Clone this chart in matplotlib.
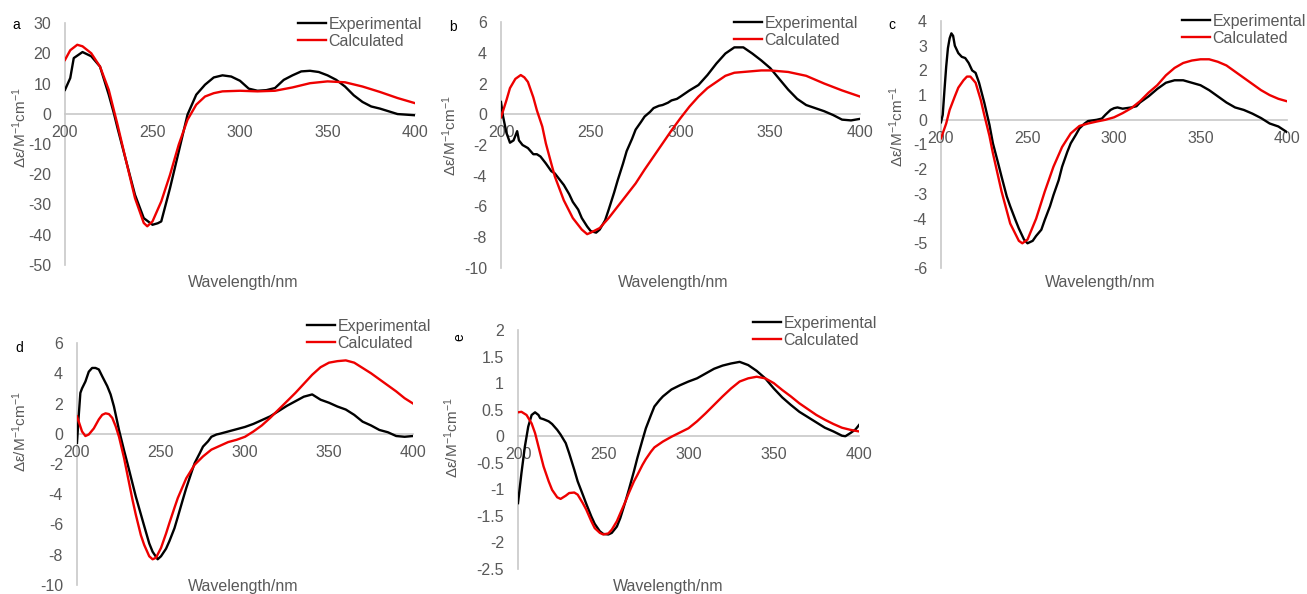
import matplotlib
matplotlib.use("Agg")
import matplotlib.pyplot as plt
from matplotlib.ticker import MultipleLocator, FuncFormatter

plt.rcParams['font.family'] = ['Liberation Sans', 'DejaVu Sans']
plt.rcParams['mathtext.fontset'] = 'custom'
plt.rcParams['mathtext.rm'] = 'Liberation Sans'
plt.rcParams['mathtext.it'] = 'Liberation Sans:italic'
plt.rcParams['axes.unicode_minus'] = False

# ---- data ----
a_exp_nm = [200, 203, 205, 207, 210, 215, 220, 225, 228, 230, 235, 240, 245, 250, 253, 255, 260, 265, 270, 275,
            280, 285, 290, 295, 300, 305, 310, 315, 320, 325, 330, 335, 340, 345, 350, 355, 360, 365, 370, 375,
            380, 385, 390, 395, 400]
a_exp = [7.9, 11.8, 18.4, 19.2, 20.4, 19.0, 15.6, 6.3, 0.0, -4.7, -15.8, -26.8, -34.5, -36.7, -36.2, -35.6, -24.6,
         -12.5, -0.3, 6.3, 9.6, 12.0, 12.7, 12.3, 10.9, 8.3, 7.6, 7.8, 8.5, 11.2, 12.7, 14.0, 14.2, 13.8, 12.7,
         11.2, 9.0, 6.1, 3.9, 2.4, 1.7, 0.8, -0.1, -0.3, -0.5]
a_calc_nm = [200, 203, 207, 210, 215, 220, 225, 230, 235, 240, 245, 247, 250, 255, 260, 265, 270, 275, 280, 285,
             290, 300, 310, 320, 330, 340, 350, 360, 370, 380, 390, 400]
a_calc = [17.8, 21.0, 22.8, 22.3, 20.0, 15.6, 7.9, -3.6, -15.8, -27.9, -36.1, -37.2, -35.6, -29.0, -20.2, -10.2,
          -2.0, 3.0, 5.7, 6.8, 7.4, 7.6, 7.4, 7.6, 8.7, 10.1, 10.7, 10.4, 9.0, 7.2, 5.2, 3.5]

b_exp_nm = [200, 201, 203, 205, 207, 209, 210, 212, 215, 218, 220, 222, 225, 228, 230, 233, 235, 238, 240, 243,
            245, 248, 250, 253, 255, 258, 260, 263, 265, 268, 270, 273, 275, 278, 280, 283, 285, 288, 290, 293,
            295, 298, 300, 305, 310, 315, 320, 325, 330, 335, 340, 345, 350, 355, 360, 365, 370, 375, 380, 385,
            390, 395, 400]
b_exp = [0.8, -0.05, -1.2, -1.85, -1.7, -1.1, -1.7, -2.0, -2.2, -2.6, -2.6, -2.75, -3.2, -3.7, -3.85, -4.3, -4.6,
         -5.2, -5.7, -6.2, -6.75, -7.3, -7.6, -7.7, -7.5, -6.9, -6.2, -5.1, -4.3, -3.2, -2.4, -1.6, -1.0, -0.5,
         -0.15, 0.15, 0.4, 0.55, 0.6, 0.75, 0.9, 1.0, 1.15, 1.55, 1.9, 2.55, 3.3, 3.95, 4.35, 4.35, 3.95, 3.5,
         3.0, 2.3, 1.6, 1.0, 0.6, 0.4, 0.2, -0.05, -0.35, -0.4, -0.3]
b_calc_nm = [200, 203, 205, 208, 211, 213, 215, 218, 220, 223, 225, 228, 230, 235, 240, 245, 248, 250, 255, 260,
             265, 270, 275, 280, 285, 290, 295, 300, 305, 310, 315, 320, 325, 330, 340, 345, 350, 355, 360, 370,
             380, 390, 400]
b_calc = [-0.2, 0.9, 1.7, 2.3, 2.55, 2.4, 2.1, 1.1, 0.25, -0.8, -1.9, -3.2, -4.05, -5.6, -6.75, -7.5, -7.8, -7.7,
          -7.4, -6.75, -6.0, -5.25, -4.5, -3.6, -2.75, -1.9, -1.05, -0.25, 0.5, 1.15, 1.7, 2.1, 2.5, 2.7, 2.8,
          2.85, 2.85, 2.8, 2.75, 2.5, 2.0, 1.55, 1.15]

c_exp_nm = [200, 201, 202, 203, 204, 205, 206, 207, 208, 210, 212, 214, 216, 218, 220, 222, 225, 228, 230, 233,
            235, 238, 240, 243, 245, 248, 250, 253, 255, 258, 260, 263, 265, 268, 270, 273, 275, 278, 280, 283,
            285, 290, 293, 295, 298, 300, 302, 305, 308, 310, 313, 315, 320, 325, 330, 335, 340, 345, 350, 355,
            360, 365, 370, 375, 380, 385, 390, 395, 400]
c_exp = [-0.1, 0.2, 1.2, 2.15, 2.9, 3.3, 3.5, 3.4, 3.0, 2.7, 2.55, 2.5, 2.3, 2.0, 1.9, 1.5, 0.7, -0.2, -0.95,
         -1.75, -2.3, -3.1, -3.5, -4.05, -4.4, -4.85, -5.0, -4.9, -4.7, -4.45, -4.05, -3.5, -3.05, -2.45, -1.9,
         -1.3, -0.95, -0.6, -0.35, -0.15, -0.05, 0.0, 0.05, 0.2, 0.4, 0.47, 0.5, 0.45, 0.48, 0.5, 0.55, 0.7, 0.95,
         1.25, 1.5, 1.6, 1.6, 1.5, 1.4, 1.2, 0.95, 0.7, 0.5, 0.4, 0.25, 0.07, -0.15, -0.27, -0.5]
c_calc_nm = [200, 203, 205, 208, 210, 213, 215, 217, 220, 223, 225, 228, 230, 235, 240, 245, 247, 250, 255, 260,
             265, 270, 275, 280, 285, 290, 295, 300, 305, 310, 315, 320, 325, 330, 335, 340, 345, 350, 355, 360,
             365, 370, 375, 380, 385, 390, 395, 400]
c_calc = [-0.75, -0.15, 0.4, 0.95, 1.3, 1.6, 1.75, 1.75, 1.5, 0.8, 0.2, -0.65, -1.35, -2.9, -4.2, -4.9, -5.0,
          -4.85, -4.0, -2.9, -1.9, -1.1, -0.55, -0.25, -0.15, -0.07, 0.0, 0.1, 0.27, 0.47, 0.75, 1.1, 1.4, 1.8,
          2.1, 2.3, 2.4, 2.45, 2.45, 2.35, 2.2, 1.95, 1.7, 1.45, 1.2, 1.0, 0.85, 0.75]

d_exp_nm = [200, 201, 202, 203, 205, 207, 209, 211, 213, 215, 218, 220, 222, 225, 228, 230, 235, 240, 243, 245,
            248, 250, 253, 255, 258, 260, 263, 265, 268, 270, 273, 275, 278, 280, 283, 285, 290, 295, 300, 305,
            310, 315, 320, 325, 330, 335, 340, 345, 350, 355, 360, 365, 370, 375, 380, 385, 390, 395, 400]
d_exp = [-0.6, 1.15, 2.7, 3.0, 3.45, 4.1, 4.35, 4.35, 4.25, 3.8, 3.15, 2.6, 1.8, 0.25, -1.1, -1.95, -4.15, -6.1,
         -7.25, -7.8, -8.3, -8.1, -7.6, -7.1, -6.25, -5.5, -4.35, -3.6, -2.6, -1.95, -1.3, -0.85, -0.5, -0.2,
         -0.05, 0.0, 0.15, 0.3, 0.45, 0.65, 0.9, 1.15, 1.5, 1.85, 2.15, 2.45, 2.6, 2.25, 2.05, 1.8, 1.6, 1.25,
         0.8, 0.55, 0.25, 0.1, -0.15, -0.2, -0.15]
d_calc_nm = [200, 203, 205, 207, 210, 213, 215, 217, 219, 221, 223, 225, 228, 230, 233, 235, 238, 240, 243, 245,
             247, 250, 253, 255, 258, 260, 265, 270, 275, 280, 285, 290, 295, 300, 305, 310, 315, 320, 325, 330,
             335, 340, 345, 350, 355, 360, 365, 370, 375, 380, 385, 390, 395, 400]
d_calc = [1.15, 0.15, -0.15, -0.05, 0.35, 0.95, 1.25, 1.35, 1.3, 1.05, 0.5, -0.2, -1.6, -2.7, -4.35, -5.35, -6.7,
          -7.35, -8.1, -8.3, -8.2, -7.55, -6.6, -5.9, -4.9, -4.25, -2.95, -2.05, -1.5, -1.05, -0.8, -0.55, -0.4,
          -0.2, 0.15, 0.55, 1.05, 1.6, 2.15, 2.7, 3.3, 3.9, 4.4, 4.7, 4.8, 4.85, 4.7, 4.35, 4.0, 3.6, 3.2, 2.8,
          2.35, 2.0]

e_exp_nm = [200, 202, 204, 206, 208, 210, 212, 213, 215, 218, 220, 223, 225, 228, 230, 233, 235, 238, 240, 243,
            245, 248, 250, 253, 255, 258, 260, 263, 265, 268, 270, 273, 275, 278, 280, 283, 285, 290, 295, 300,
            305, 310, 315, 320, 325, 330, 335, 340, 345, 350, 355, 360, 365, 370, 375, 380, 385, 390, 392, 395,
            398, 400]
e_exp = [-1.26, -0.7, -0.2, 0.18, 0.4, 0.45, 0.4, 0.34, 0.32, 0.28, 0.23, 0.12, 0.03, -0.13, -0.32, -0.63, -0.85,
         -1.1, -1.27, -1.51, -1.65, -1.79, -1.84, -1.85, -1.82, -1.7, -1.54, -1.23, -1.01, -0.66, -0.41, -0.07,
         0.15, 0.4, 0.56, 0.68, 0.75, 0.88, 0.96, 1.03, 1.09, 1.18, 1.27, 1.33, 1.37, 1.4, 1.34, 1.23, 1.09, 0.9,
         0.73, 0.59, 0.46, 0.36, 0.26, 0.16, 0.09, 0.01, 0.0, 0.06, 0.13, 0.21]
e_calc_nm = [200, 202, 205, 208, 210, 213, 215, 218, 220, 223, 225, 228, 230, 233, 235, 238, 240, 243, 245, 248,
             250, 253, 255, 258, 260, 263, 265, 268, 270, 273, 275, 278, 280, 285, 290, 295, 300, 305, 310, 315,
             320, 325, 330, 335, 340, 345, 350, 355, 360, 365, 370, 375, 380, 385, 390, 395, 400]
e_calc = [0.45, 0.46, 0.4, 0.24, 0.06, -0.32, -0.57, -0.85, -1.01, -1.15, -1.18, -1.12, -1.07, -1.06, -1.1, -1.26,
          -1.38, -1.6, -1.73, -1.82, -1.85, -1.83, -1.76, -1.6, -1.45, -1.23, -1.07, -0.85, -0.73, -0.54, -0.43,
          -0.29, -0.21, -0.1, -0.01, 0.07, 0.15, 0.28, 0.43, 0.59, 0.75, 0.9, 1.03, 1.09, 1.12, 1.09, 1.0, 0.87,
          0.75, 0.62, 0.51, 0.4, 0.31, 0.23, 0.16, 0.12, 0.09]

W, H = 1307, 594
GRAY = '#595959'
AXIS = '#c8c8c8'

fig = plt.figure(figsize=(W / 100, H / 100), dpi=100)


def px_to_axes(box, px, py):
    x0, y0, x1, y1 = box
    return (px - x0) / (x1 - x0), (y1 - py) / (y1 - y0)


def panel(box, ylim, ystep, exp_nm, exp, calc_nm, calc, letter, letter_xy, leg_xy, xlab_xy, ylab_xy,
          letter_rot=0):
    x0, y0, x1, y1 = box
    ax = fig.add_axes([x0 / W, 1 - y1 / H, (x1 - x0) / W, (y1 - y0) / H])
    ax.plot(exp_nm, exp, color='black', lw=1.7, label='Experimental', solid_joinstyle='round')
    ax.plot(calc_nm, calc, color='#ee0000', lw=1.7, label='Calculated', solid_joinstyle='round')
    ax.set_xlim(200, 400)
    ax.set_ylim(*ylim)
    ax.xaxis.set_major_locator(MultipleLocator(50))
    ax.yaxis.set_major_locator(MultipleLocator(ystep))
    ax.yaxis.set_major_formatter(FuncFormatter(lambda v, p: '{:g}'.format(round(v, 3))))
    for s in ['top', 'right']:
        ax.spines[s].set_visible(False)
    ax.spines['bottom'].set_position(('data', 0))
    for s in ['bottom', 'left']:
        ax.spines[s].set_color(AXIS)
        ax.spines[s].set_linewidth(1.2)
        ax.spines[s].set_zorder(0.5)
    ax.tick_params(axis='both', length=0, labelsize=11.5, labelcolor=GRAY)
    ax.tick_params(axis='x', pad=8)
    ax.tick_params(axis='y', pad=10)
    ax.patch.set_alpha(0)

    ax.set_xlabel('Wavelength/nm', fontsize=11.5, color=GRAY, va='center')
    ax.xaxis.set_label_coords(*px_to_axes(box, *xlab_xy))
    ax.set_ylabel(r'Δε/M$^{\mathrm{-1}}$cm$^{\mathrm{-1}}$', fontsize=11, color=GRAY, va='center')
    ax.yaxis.set_label_coords(*px_to_axes(box, *ylab_xy))

    fig.legend(handles=ax.get_lines(), loc='upper left', bbox_to_anchor=(leg_xy[0] / W, 1 - leg_xy[1] / H),
               frameon=False, fontsize=11.5, labelcolor=GRAY, handlelength=1.75, handletextpad=0.15,
               labelspacing=0.13, borderpad=0, borderaxespad=0)
    fig.text(letter_xy[0] / W, 1 - letter_xy[1] / H, letter, fontsize=10, color='black',
             ha='center', va='center', rotation=letter_rot)
    return ax


panel((65, 23, 415, 265), (-50, 30), 10, a_exp_nm, a_exp, a_calc_nm, a_calc, 'a', (16, 25),
      (298, 17), (243, 283), (20, 128))
panel((501, 22, 860, 268), (-10, 6), 2, b_exp_nm, b_exp, b_calc_nm, b_calc, 'b', (453, 27),
      (734, 16), (673, 283), (450, 136))
panel((941, 21, 1287, 268), (-6, 4), 1, c_exp_nm, c_exp, c_calc_nm, c_calc, 'c', (892, 25),
      (1182, 14), (1100, 283), (897, 127))
panel((77, 343, 413, 585), (-10, 6), 2, d_exp_nm, d_exp, d_calc_nm, d_calc, 'd', (19, 348),
      (307, 319), (243, 586), (20, 432))
panel((518, 330, 859, 569), (-2.5, 2), 0.5, e_exp_nm, e_exp, e_calc_nm, e_calc, 'e', (459, 337),
      (753, 316), (668, 587), (452, 438), letter_rot=90)

fig.savefig('out.png', dpi=100)
